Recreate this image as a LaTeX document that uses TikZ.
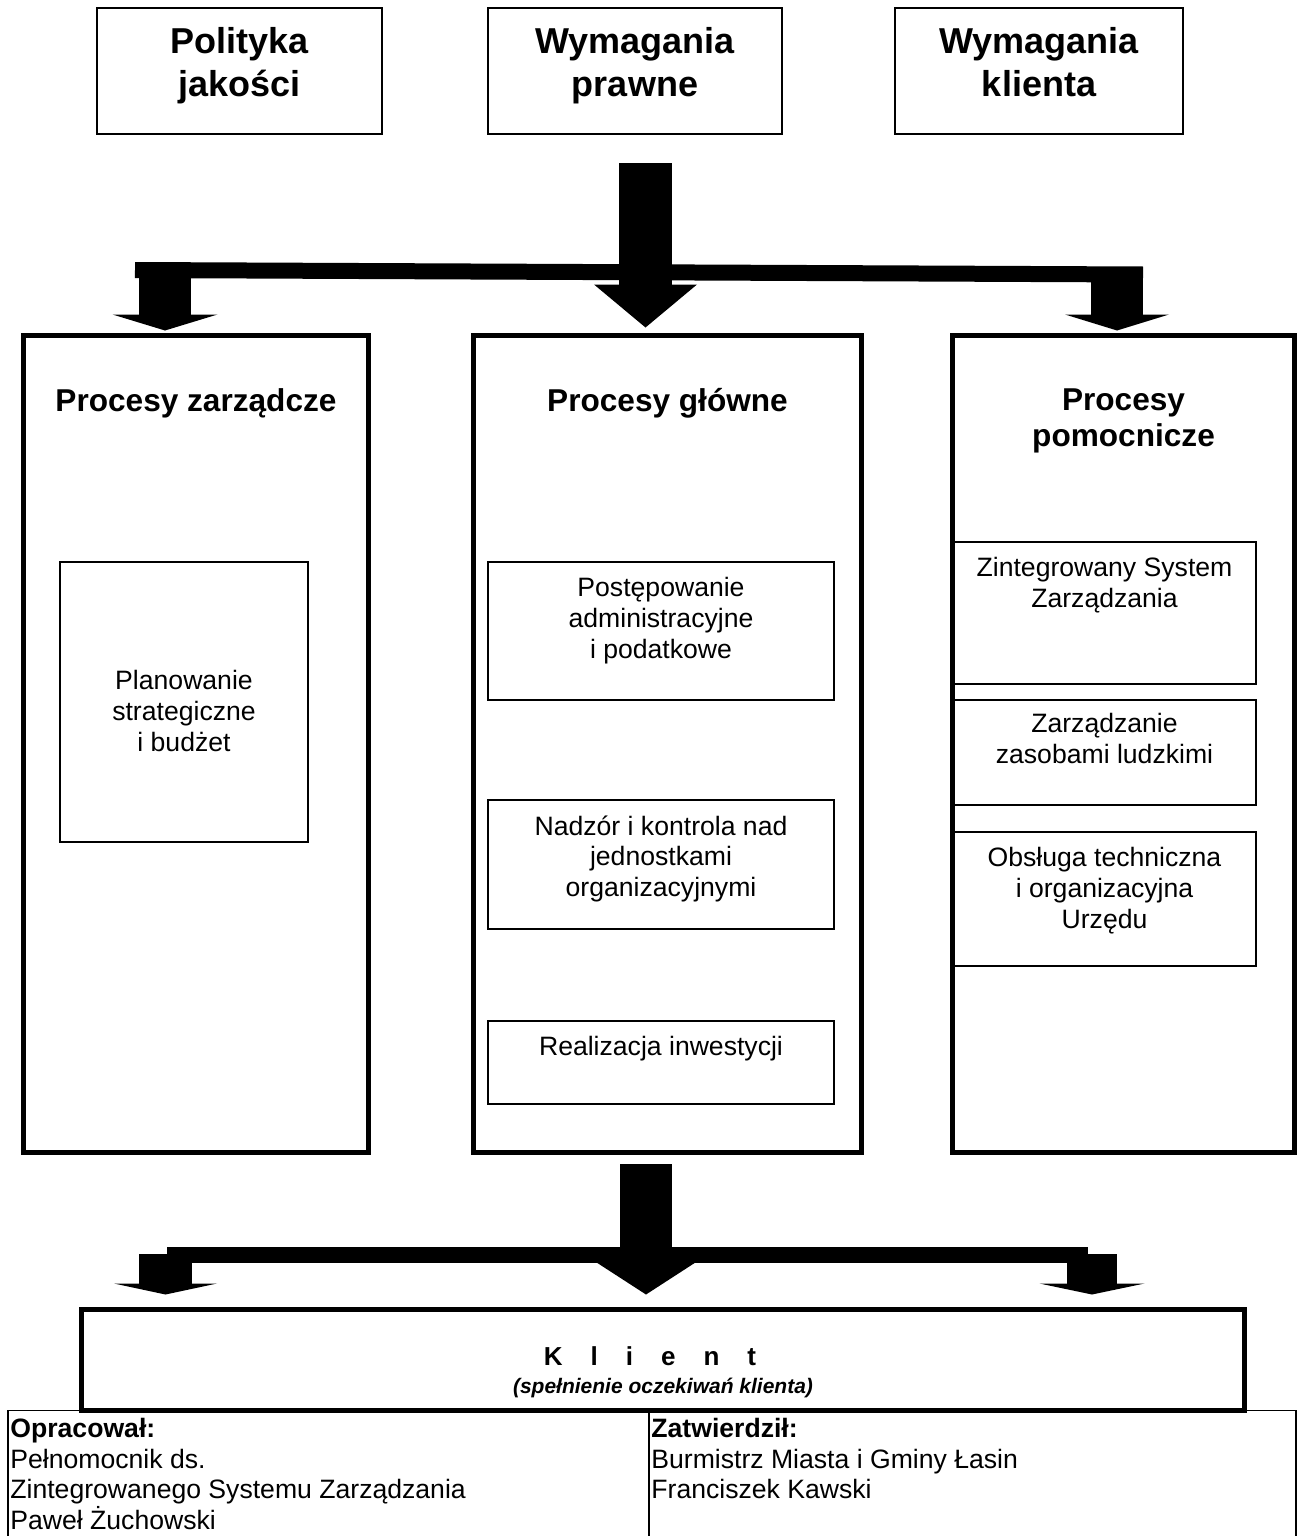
\documentclass[tikz,border=0pt]{standalone}
\usepackage{fontspec}
\setmainfont{Liberation Sans}
\usetikzlibrary{arrows.meta, positioning, calc}

\begin{document}
\begin{tikzpicture}[x=0.5pt, y=-0.5pt,
                    node distance=8pt,
                    inputbox/.style={rectangle, draw, line width=1pt, minimum width=144pt, minimum height=63pt},
                    processbox/.style={rectangle, draw, line width=2.5pt, minimum height=408.5pt},
                    taskbox/.style={rectangle, draw, line width=0.75pt},
                    cell/.style={rectangle, draw, line width=0.75pt, minimum height=100pt, anchor=north west},
                    inputtext/.style={align=center, inner sep=0pt, font=\bfseries\fontsize{18}{21.5}\selectfont},
                    headtext/.style={align=center, inner sep=0pt, font=\bfseries\fontsize{15.8}{18}\selectfont},
                    tasktext/.style={align=center, inner sep=0pt, font=\fontsize{13.3}{15.3}\selectfont},
                    tabletext/.style={align=left, inner sep=0pt, font=\fontsize{13.3}{15.3}\selectfont},
                    blockarrow/.style n args={3}{line width=#1, -{Triangle[width=#2, length=#3, line width=0pt]}}]

    \useasboundingbox (0,0) rectangle (1297,1536);
    \fill[white] (0,0) rectangle (1297,1536);

    % Input Nodes
    \node[inputbox, minimum width=142.5pt] (polityka) at (239.5,71) {};
    \node[inputbox, minimum width=147pt] (prawne) at (635,71) {};
    \node[inputbox] (klienta) at (1039,71) {};
    \node[inputtext, below=10pt of polityka.north] (politykatxt) {Polityka\\jakości};
    \node[inputtext, below=10pt of prawne.north] (prawnetxt) {Wymagania\\prawne};
    \node[inputtext, below=10pt of klienta.north] (klientatxt) {Wymagania\\klienta};

    % Process Nodes
    \node[processbox, minimum width=172.5pt] (zarz) at (196,744) {};
    \node[processbox, minimum width=194pt] (glowne) at (667.5,744) {};
    \node[processbox, minimum width=171pt] (pomoc) at (1123.5,744) {};
    \node[headtext, below=27.5pt of zarz.north] (zarztxt) {Procesy zarządcze};
    \node[headtext, below=27.5pt of glowne.north] (glownetxt) {Procesy główne};
    \node[headtext, below=27.5pt of pomoc.north] (pomoctxt) {Procesy\\pomocnicze};

    % Task Nodes
    \node[taskbox, minimum width=124pt, minimum height=140pt] (plan) at (184,702) {};
    \node[tasktext, below=54.5pt of plan.north] (plantxt) {Planowanie\\strategiczne\\i budżet};

    \node[taskbox, minimum width=173pt, minimum height=69pt] (post) at (661,631) {};
    \node[taskbox, minimum width=173pt, minimum height=64.5pt] (nadz) at (661,864.5) {};
    \node[taskbox, minimum width=173pt, minimum height=41.5pt] (real) at (661,1062.5) {};
    \node[tasktext, below=of post.north] (posttxt) {Postępowanie\\administracyjne\\i podatkowe};
    \node[tasktext, below=of nadz.north] (nadztxt) {Nadzór i kontrola nad\\jednostkami\\organizacyjnymi};
    \node[tasktext, below=of real.north] (realtxt) {Realizacja inwestycji};

    \node[taskbox, minimum width=151.5pt, minimum height=71pt] (zsz) at (1104.5,613) {};
    \node[taskbox, minimum width=151.5pt, minimum height=52.5pt] (zzl) at (1104.5,752.5) {};
    \node[taskbox, minimum width=151.5pt, minimum height=67pt] (obs) at (1104.5,899) {};
    \node[tasktext, below=of zsz.north] (zsztxt) {Zintegrowany System\\Zarządzania};
    \node[tasktext, below=7pt of zzl.north] (zzltxt) {Zarządzanie\\zasobami ludzkimi};
    \node[tasktext, below=of obs.north] (obstxt) {Obsługa techniczna\\i organizacyjna\\Urzędu};

    % Signature table
    \node[cell, minimum width=320.5pt] (opracowal) at (7,1409.5) {};
    \node[cell, minimum width=323.5pt] (zatwierdzil) at (648,1409.5) {};
    \node[tabletext, below right=4.25pt and 1.5pt of opracowal.north west] (opracowaltxt)
        {\textbf{Opracował:}\\Pełnomocnik ds.\\Zintegrowanego Systemu Zarządzania\\Paweł Żuchowski};
    \node[tabletext, below right=4.25pt and 1.5pt of zatwierdzil.north west] (zatwierdziltxt)
        {\textbf{Zatwierdził:}\\Burmistrz Miasta i Gminy Łasin\\Franciszek Kawski};

    % Client Node
    \node[rectangle, draw, line width=2.5pt, minimum width=581.5pt, minimum height=50.5pt] (klient) at (663,1360) {};
    \node[inner sep=0pt, font=\bfseries\fontsize{13}{15}\selectfont, below=19.5pt of klient.north, xshift=-6.5pt] (klientname)
        {K\hspace{14pt}l\hspace{14pt}i\hspace{14pt}e\hspace{14pt}n\hspace{14pt}t};
    \node[inner sep=0pt, font=\bfseries\itshape\fontsize{10.5}{12}\selectfont, below=14pt of klientname.base, anchor=base, xshift=6.5pt] (klientnote)
        {(spełnienie oczekiwań klienta)};

    % Arrows from inputs to processes
    \coordinate (hubtop) at (645.5,163);
    \coordinate (barW) at (135,270);
    \coordinate (barE) at (1143,274.5);
    \coordinate (dropL) at (165,270);
    \coordinate (dropR) at (1117,274.5);
    \draw[line width=8pt] (barW) -- (barE);
    \draw[blockarrow={26.5pt}{51.5pt}{21.5pt}, shorten >=2.75pt] (hubtop) -- (hubtop |- glowne.north);
    \draw[blockarrow={26pt}{52.5pt}{8pt}, shorten >=1.25pt] (dropL) -- (dropL |- zarz.north);
    \draw[blockarrow={26pt}{52pt}{8pt}, shorten >=1.25pt] (dropR) -- (dropR |- pomoc.north);

    % Arrows from processes to client
    \coordinate (hubbot) at (646,1164);
    \coordinate (barBW) at (167,1255);
    \coordinate (barBE) at (1088,1255);
    \coordinate (dropBL) at (165.5,1254);
    \coordinate (dropBR) at (1092,1254);
    \draw[line width=8pt] (barBW) -- (barBE);
    \draw[blockarrow={26pt}{52.5pt}{17pt}, shorten >=6.25pt] (hubbot) -- (hubbot |- klient.north);
    \draw[blockarrow={26.5pt}{51.5pt}{5.5pt}, shorten >=6.25pt] (dropBL) -- (dropBL |- klient.north);
    \draw[blockarrow={25pt}{52.5pt}{5.5pt}, shorten >=6.25pt] (dropBR) -- (dropBR |- klient.north);

\end{tikzpicture}
\end{document}
